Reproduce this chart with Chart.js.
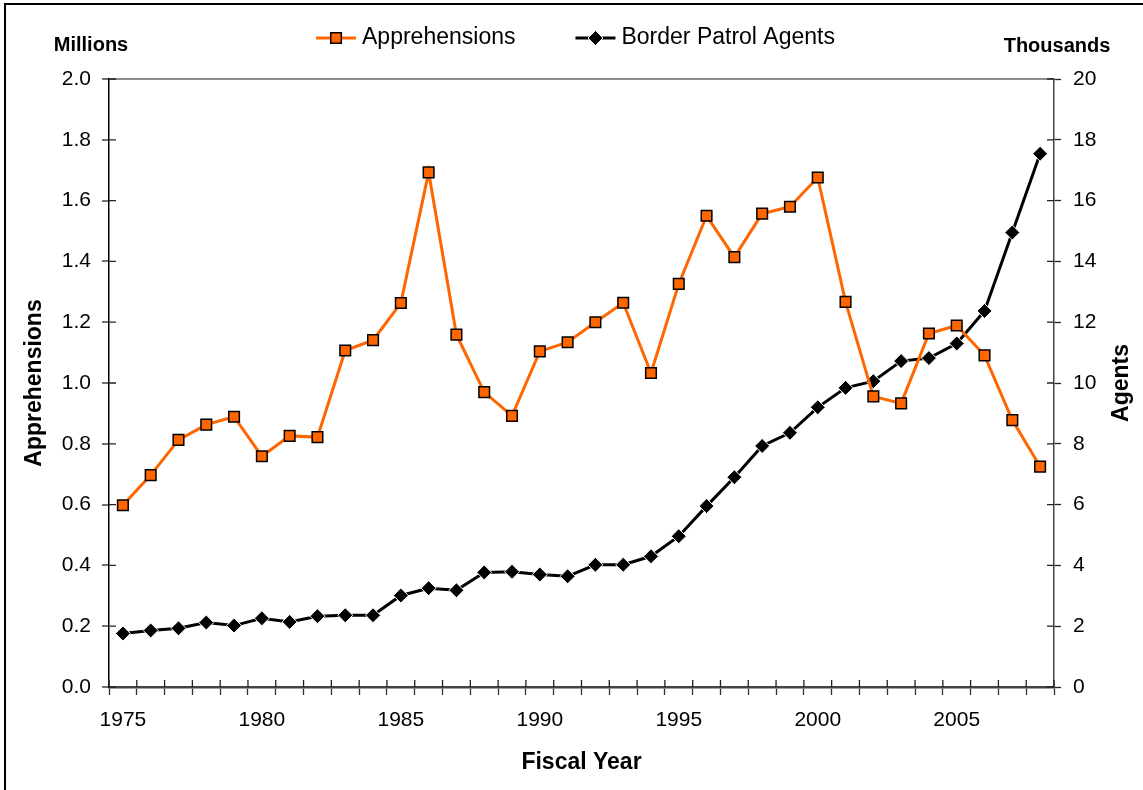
<!DOCTYPE html>
<html>
<head>
<meta charset="utf-8">
<script src="https://cdn.jsdelivr.net/npm/chart.js@4.4.1/dist/chart.umd.min.js"></script>
<style>
  html, body { margin: 0; padding: 0; background: #fff; overflow: hidden; }
  #wrap { position: relative; width: 1143px; height: 790px; }
  #frame { position: absolute; left: 4px; top: 3px; width: 1200px; height: 900px; border: 2px solid #000; pointer-events: none; }
</style>
</head>
<body>
<div id="wrap">
  <canvas id="borderChart"></canvas>
  <div id="frame"></div>
</div>
<script>
// Fiscal years on the x axis
const years = ['1975', '1976', '1977', '1978', '1979', '1980', '1981', '1982', '1983', '1984',
  '1985', '1986', '1987', '1988', '1989', '1990', '1991', '1992', '1993', '1994',
  '1995', '1996', '1997', '1998', '1999', '2000', '2001', '2002', '2003', '2004',
  '2005', '2006', '2007', '2008'];
const labeledYears = ['1975', '1980', '1985', '1990', '1995', '2000', '2005'];

// Apprehensions, millions (left axis)
const apprehensions = [0.598, 0.697, 0.813, 0.863, 0.889, 0.759, 0.826, 0.822, 1.107, 1.141,
  1.263, 1.693, 1.159, 0.970, 0.892, 1.104, 1.134, 1.200, 1.264, 1.033,
  1.326, 1.550, 1.414, 1.557, 1.580, 1.676, 1.267, 0.956, 0.933, 1.163,
  1.189, 1.091, 0.878, 0.725];

// Border Patrol agents, thousands (right axis)
const agents = [1.76, 1.86, 1.93, 2.12, 2.02, 2.26, 2.14, 2.33, 2.36, 2.36,
  3.01, 3.25, 3.18, 3.77, 3.79, 3.70, 3.64, 4.02, 4.02, 4.30,
  4.96, 5.95, 6.90, 7.93, 8.36, 9.20, 9.84, 10.06, 10.72, 10.82,
  11.30, 12.37, 14.95, 17.54];

const FONT = '"Liberation Sans", Arial, Helvetica, sans-serif';
Chart.defaults.font.family = FONT;
Chart.defaults.color = '#000';

// legend, unit captions, right title and the inside half of every tick mark
const extras = {
  id: 'extras',
  afterDraw(chart) {
    const ctx = chart.ctx;
    const { left, right, top, bottom } = chart.chartArea;
    const xs = chart.scales.x, ys = chart.scales.y, ys1 = chart.scales.y1;
    ctx.save();

    ctx.lineWidth = 1.3;
    ctx.strokeStyle = '#222';
    ctx.beginPath();
    const step = xs.getPixelForValue(1) - xs.getPixelForValue(0);
    for (let i = 0; i <= years.length; i++) {
      const px = xs.getPixelForValue(i) - step / 2;
      ctx.moveTo(px, bottom);
      ctx.lineTo(px, bottom - 7);
    }
    ys.ticks.forEach(t => {
      const py = ys.getPixelForValue(t.value);
      ctx.moveTo(left, py); ctx.lineTo(left + 7, py);
    });
    ys1.ticks.forEach(t => {
      const py = ys1.getPixelForValue(t.value);
      ctx.moveTo(right, py); ctx.lineTo(right - 7, py);
    });
    ctx.stroke();

    ctx.fillStyle = '#000';
    ctx.textAlign = 'center';
    ctx.textBaseline = 'middle';
    ctx.font = 'bold 20px ' + FONT;
    ctx.fillText('Millions', left - 18, top - 34);
    ctx.fillText('Thousands', right + 3, top - 33);

    // right axis title reads bottom to top, like the left one
    ctx.save();
    ctx.font = 'bold 23px ' + FONT;
    ctx.translate(1122, (top + bottom) / 2);
    ctx.rotate(-Math.PI / 2);
    ctx.fillText(chart.options.scales.y1.title.text, 0, 0);
    ctx.restore();

    // legend: line + marker + text
    ctx.font = '23px ' + FONT;
    const lineLen = 40, gap = 6, itemGap = 60, ly = 38;
    const sets = chart.data.datasets;
    const widths = sets.map(d => lineLen + gap + ctx.measureText(d.label).width);
    const total = widths.reduce((a, b) => a + b, 0) + itemGap * (sets.length - 1);
    let lx = chart.width / 2 + 4 - total / 2;
    sets.forEach((d, i) => {
      ctx.strokeStyle = d.borderColor;
      ctx.lineWidth = d.borderWidth;
      ctx.beginPath();
      ctx.moveTo(lx, ly); ctx.lineTo(lx + lineLen, ly);
      ctx.stroke();
      ctx.fillStyle = d.pointBackgroundColor;
      ctx.strokeStyle = d.pointBorderColor;
      ctx.lineWidth = d.pointBorderWidth;
      Chart.helpers.drawPoint(ctx, { pointStyle: d.pointStyle, radius: d.pointRadius, rotation: 0, borderWidth: d.pointBorderWidth }, lx + lineLen / 2, ly);
      ctx.fillStyle = '#000';
      ctx.textAlign = 'left';
      ctx.fillText(d.label, lx + lineLen + gap, ly);
      lx += widths[i] + itemGap;
    });
    ctx.restore();
  }
};

new Chart(document.getElementById('borderChart'), {
  type: 'line',
  data: {
    labels: years,
    datasets: [
      {
        label: 'Apprehensions',
        data: apprehensions,
        yAxisID: 'y',
        borderColor: '#FF6600',
        borderWidth: 3,
        pointStyle: 'rect',
        pointRadius: 7.5,
        pointBackgroundColor: '#FF6600',
        pointBorderColor: '#000',
        pointBorderWidth: 1.5,
        tension: 0
      },
      {
        label: 'Border Patrol Agents',
        data: agents,
        yAxisID: 'y1',
        borderColor: '#000',
        borderWidth: 3,
        pointStyle: 'rectRot',
        pointRadius: 7.5,
        pointBackgroundColor: '#000',
        pointBorderColor: '#fff',
        pointBorderWidth: 1,
        tension: 0
      }
    ]
  },
  options: {
    responsive: true,
    maintainAspectRatio: false,
    animation: false,
    layout: { padding: { top: 79, left: 0, right: 0, bottom: 0 } },
    plugins: { legend: { display: false }, tooltip: { enabled: false } },
    scales: {
      x: {
        offset: true,
        grid: { offset: true, drawOnChartArea: false, color: '#333', tickLength: 8, tickWidth: 1.3 },
        border: { color: '#444', width: 2.5 },
        ticks: {
          autoSkip: false, maxRotation: 0, padding: 13,
          font: { size: 21 },
          callback(v) { const y = this.getLabelForValue(v); return labeledYears.includes(y) ? y : ''; }
        },
        title: { display: true, text: 'Fiscal Year', font: { size: 23, weight: 'bold' }, padding: { top: 0, bottom: 14 } },
        afterFit(s) { s.height = 103; }
      },
      y: {
        position: 'left',
        min: 0, max: 2,
        ticks: { stepSize: 0.2, padding: 11, font: { size: 21 }, callback: v => v.toFixed(1) },
        grid: {
          color: c => (c.tick && c.tick.value === 2 ? '#8c8c8c' : 'rgba(0,0,0,0)'),
          lineWidth: 2, tickColor: '#222', tickLength: 7, tickWidth: 1.3
        },
        border: { color: '#000', width: 1.5 },
        title: { display: true, text: 'Apprehensions', font: { size: 23, weight: 'bold' }, padding: { top: 21, bottom: 0 } },
        afterFit(s) { s.width = 109; }
      },
      y1: {
        position: 'right',
        min: 0, max: 20,
        ticks: { stepSize: 2, padding: 12, font: { size: 21 } },
        grid: { drawOnChartArea: false, color: '#222', tickLength: 7, tickWidth: 1.3 },
        border: { color: '#444', width: 1.5 },
        title: { display: false, text: 'Agents' },
        afterFit(s) { s.width = 89; }
      }
    }
  },
  plugins: [extras]
});
</script>
</body>
</html>
